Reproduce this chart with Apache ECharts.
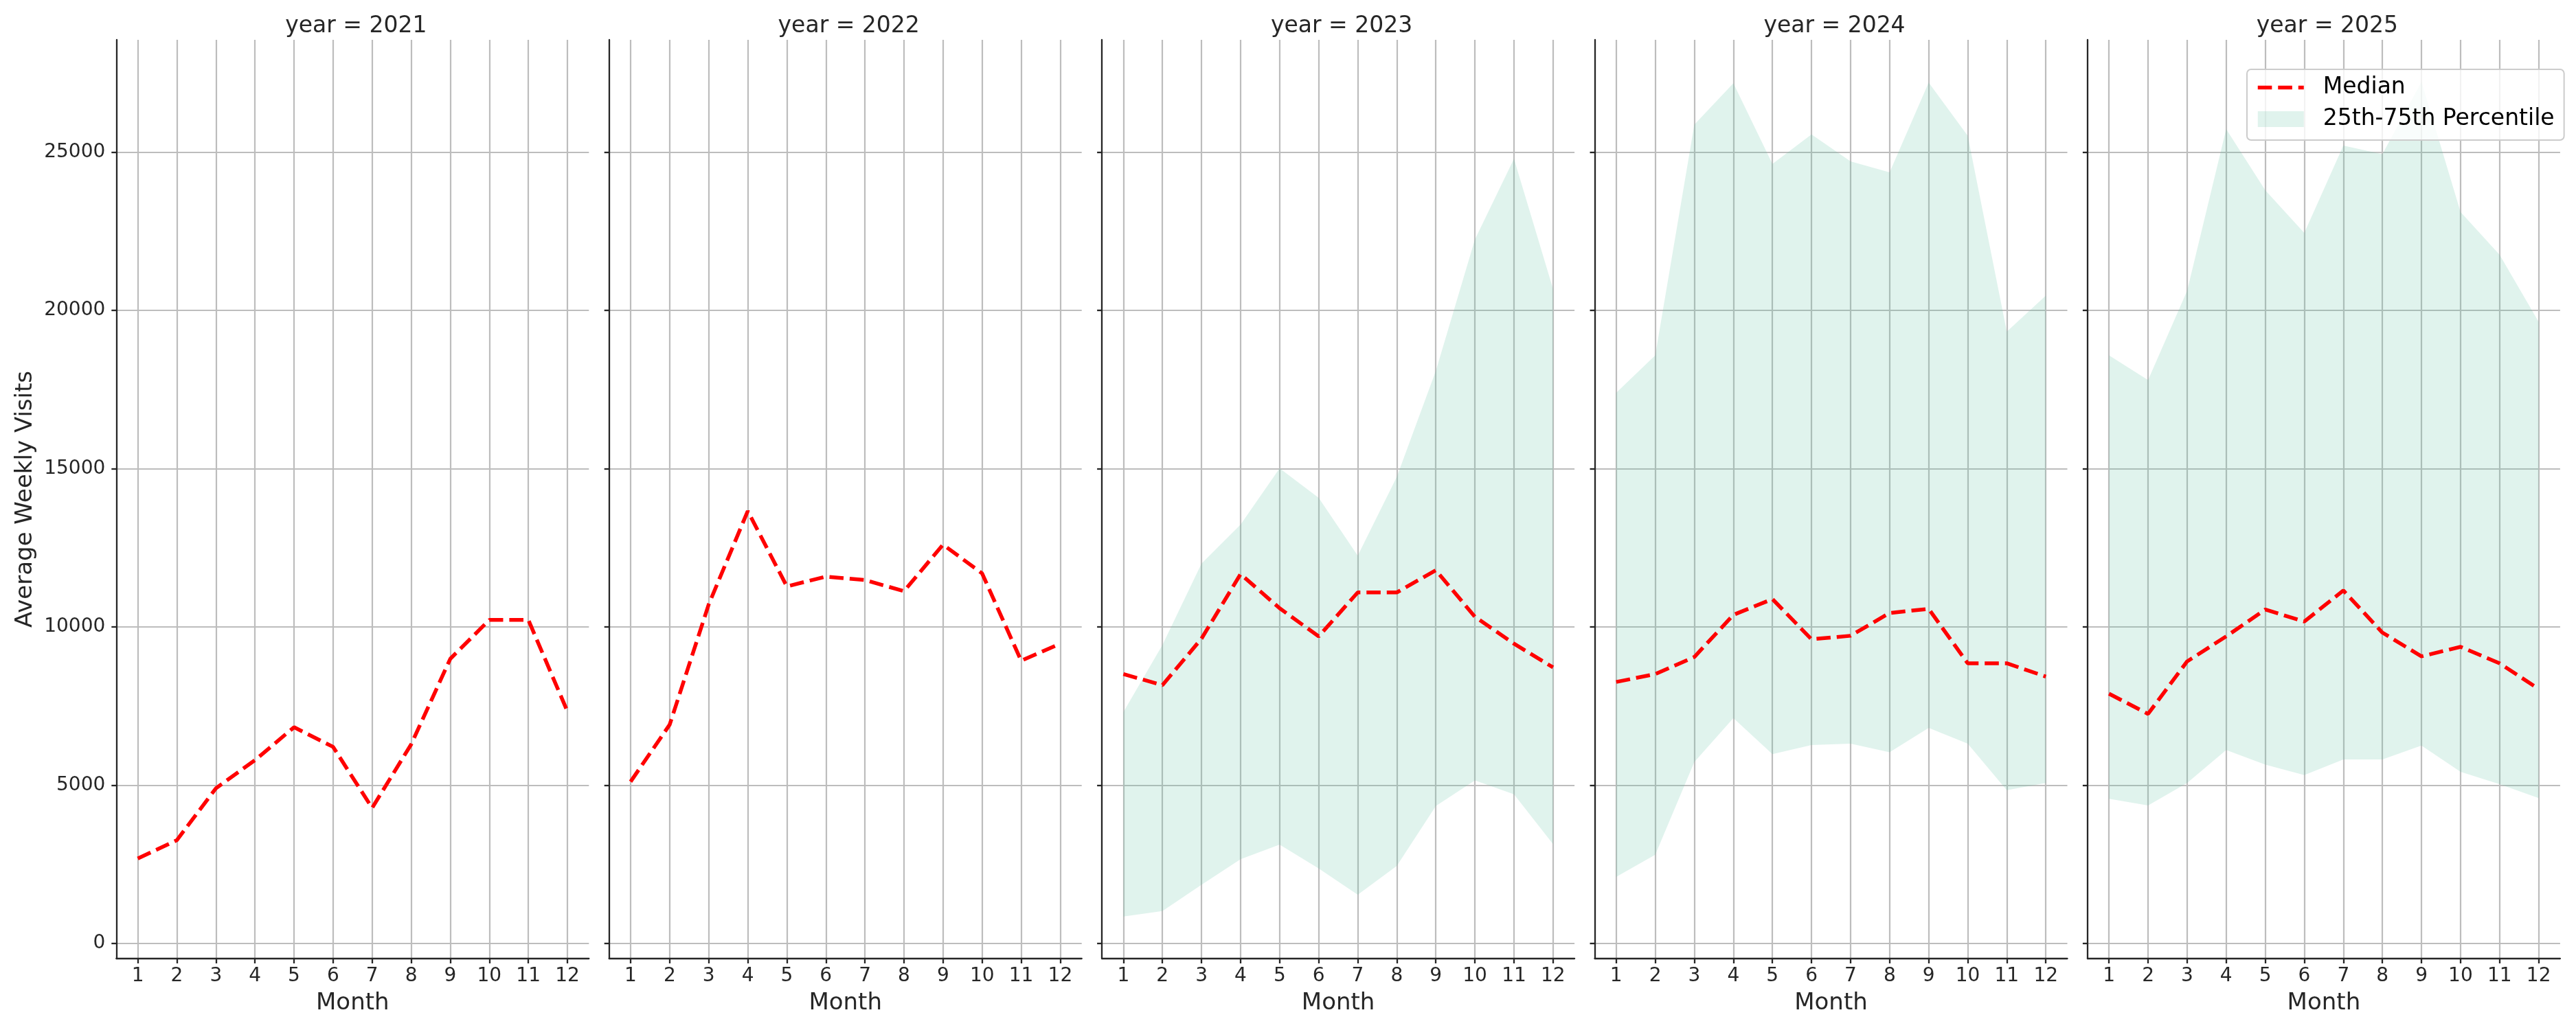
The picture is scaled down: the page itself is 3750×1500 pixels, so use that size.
<!DOCTYPE html>
<html>
<head>
<meta charset="utf-8">
<script src="https://cdn.jsdelivr.net/npm/echarts@6/dist/echarts.min.js"></script>
<style>
html, body { margin: 0; padding: 0; background: #fff; }
#chart { width: 3750px; height: 1500px; }
</style>
</head>
<body>
<div id="chart"></div>
<script>
var years = ['2021', '2022', '2023', '2024', '2025'];
var months = [1, 2, 3, 4, 5, 6, 7, 8, 9, 10, 11, 12];
var yTicks = [0, 5000, 10000, 15000, 20000, 25000];

var median2021 = [2680, 3260, 4900, 5790, 6830, 6210, 4280, 6290, 8990, 10220, 10220, 7330];
var median2022 = [5110, 6910, 10710, 13660, 11280, 11590, 11480, 11130, 12600, 11690, 8930, 9470];
var median2023 = [8510, 8160, 9630, 11670, 10590, 9700, 11090, 11090, 11790, 10320, 9470, 8720];
var lower2023 = [850, 1020, 1850, 2660, 3120, 2370, 1540, 2450, 4340, 5150, 4710, 3140];
var upper2023 = [7310, 9430, 12000, 13230, 15010, 14080, 12250, 14740, 18090, 22240, 24790, 20680];
var median2024 = [8260, 8510, 9050, 10380, 10880, 9610, 9720, 10440, 10570, 8850, 8850, 8430];
var lower2024 = [2100, 2800, 5730, 7120, 5980, 6270, 6310, 6040, 6810, 6310, 4840, 5070];
var upper2024 = [17400, 18580, 25870, 27180, 24630, 25560, 24710, 24360, 27200, 25520, 19330, 20470];
var median2025 = [7890, 7250, 8910, 9700, 10550, 10170, 11150, 9820, 9070, 9370, 8850, 8040];
var lower2025 = [4570, 4360, 5070, 6110, 5650, 5320, 5810, 5810, 6250, 5420, 5030, 4590];
var upper2025 = [18580, 17800, 20620, 25730, 23800, 22450, 25210, 24940, 27220, 23110, 21760, 19640];

var medians = [median2021, median2022, median2023, median2024, median2025];
var lowers = [null, null, lower2023, lower2024, lower2025];
var uppers = [null, null, upper2023, upper2024, upper2025];

var FONT = 'DejaVu Sans';
var TEXT = '#262626';
var FILL = 'rgba(102,194,165,0.2)';
var panelLeft = [169.3, 886.7, 1604.1, 2321.5, 3038.9];
var panelW = 688, panelTop = 58, panelH = 1338;

function pairs(vals) {
    return months.map(function (m, i) { return [m, vals[i]]; });
}

// one polygon for the whole band, drawn on the first data item
function bandRenderer(lo, hi) {
    return function (params, api) {
        if (params.dataIndex !== 0) return;
        var pts = [];
        for (var k = 0; k < months.length; k++) pts.push(api.coord([months[k], hi[k]]));
        for (var k = months.length - 1; k >= 0; k--) pts.push(api.coord([months[k], lo[k]]));
        return { type: 'polygon', shape: { points: pts }, style: { fill: FILL } };
    };
}

var grids = [], xAxes = [], yAxes = [], titles = [], series = [];

years.forEach(function (yr, i) {
    grids.push({ left: panelLeft[i], top: panelTop, width: panelW, height: panelH });
    titles.push({
        text: 'year = ' + yr,
        left: panelLeft[i] + panelW / 2,
        top: 17,
        textAlign: 'center',
        textStyle: { fontFamily: FONT, fontSize: 33, fontWeight: 'normal', color: TEXT }
    });
    xAxes.push({
        gridIndex: i,
        type: 'value',
        min: 0.45,
        max: 12.55,
        name: 'Month',
        nameLocation: 'middle',
        nameGap: 48,
        nameTextStyle: { fontFamily: FONT, fontSize: 34, color: TEXT },
        axisLine: { show: true, onZero: false, lineStyle: { color: TEXT, width: 2.3 } },
        axisTick: { show: true, length: 7, customValues: months, lineStyle: { color: TEXT, width: 2.3 } },
        axisLabel: { customValues: months, margin: 12, fontFamily: FONT, fontSize: 28, color: TEXT },
        splitLine: { show: true, lineStyle: { color: '#bdbdbd', width: 2.2 } }
    });
    yAxes.push({
        gridIndex: i,
        type: 'value',
        min: -480,
        max: 28550,
        name: i === 0 ? 'Average Weekly Visits' : '',
        nameLocation: 'middle',
        nameGap: 115,
        nameTextStyle: { fontFamily: FONT, fontSize: 34, color: TEXT },
        axisLine: { show: true, onZero: false, lineStyle: { color: TEXT, width: 2.3 } },
        axisTick: { show: true, length: 7, customValues: yTicks, lineStyle: { color: TEXT, width: 2.3 } },
        axisLabel: {
            show: i === 0, customValues: yTicks, margin: 16,
            fontFamily: FONT, fontSize: 28, color: TEXT,
            formatter: function (v) { return String(v); }
        },
        splitLine: { show: true, lineStyle: { color: '#bdbdbd', width: 2.2 } }
    });

    if (lowers[i]) {
        series.push({
            name: '25th-75th Percentile', type: 'custom', xAxisIndex: i, yAxisIndex: i,
            silent: true, z: 2,
            itemStyle: { color: FILL },
            encode: { x: 0, y: [1, 2] },
            data: months.map(function (m, k) { return [m, lowers[i][k], uppers[i][k]]; }),
            renderItem: bandRenderer(lowers[i], uppers[i])
        });
    }
    series.push({
        name: 'Median', type: 'line', xAxisIndex: i, yAxisIndex: i,
        symbol: 'none', z: 5,
        lineStyle: { color: '#ff0000', width: 5.5, type: [20.6, 8.9] },
        itemStyle: { color: '#ff0000' },
        data: pairs(medians[i])
    });
});

var chart = echarts.init(document.getElementById('chart'));
chart.setOption({
    animation: false,
    backgroundColor: '#ffffff',
    title: titles,
    grid: grids,
    xAxis: xAxes,
    yAxis: yAxes,
    legend: {
        left: 3271,
        top: 101,
        orient: 'vertical',
        selectedMode: false,
        data: [
            // line only, hide the marker circle echarts puts in the middle
            { name: 'Median', icon: 'inherit', itemStyle: { color: 'rgba(0,0,0,0)', borderWidth: 0, opacity: 0 } },
            { name: '25th-75th Percentile', icon: 'rect', itemStyle: { color: FILL } }
        ],
        itemWidth: 67,
        itemHeight: 23,
        itemGap: 13,
        padding: [10, 14, 14, 13],
        backgroundColor: 'rgba(255,255,255,0.8)',
        borderColor: '#cccccc',
        borderWidth: 2,
        borderRadius: 6,
        lineStyle: { width: 5.5, color: '#ff0000', opacity: 1 },
        textStyle: { fontFamily: FONT, fontSize: 33, color: '#000000', padding: [0, 0, 0, 23] }
    },
    series: series
});
</script>
</body>
</html>
